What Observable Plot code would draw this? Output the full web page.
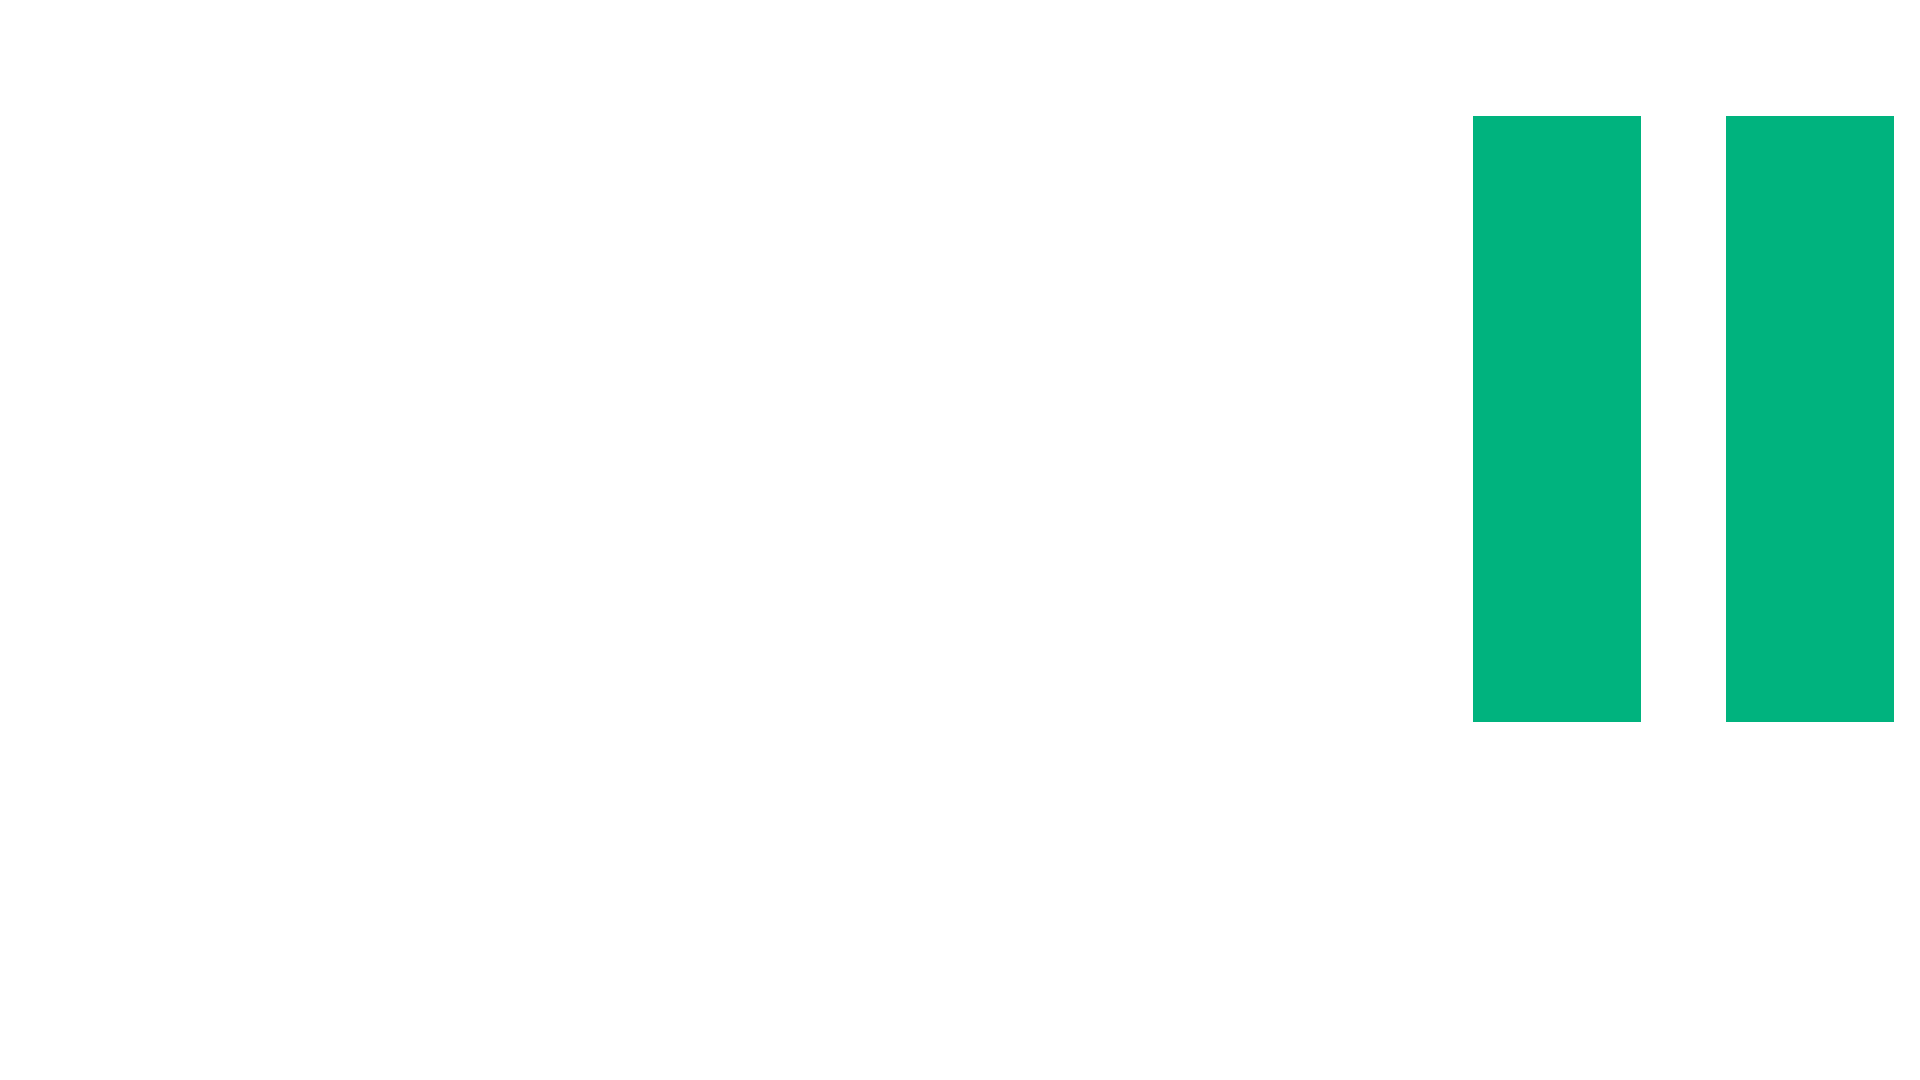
<!DOCTYPE html>
<html>
<head>
<meta charset="utf-8">
<script src="https://cdn.jsdelivr.net/npm/d3@7"></script>
<script src="https://cdn.jsdelivr.net/npm/@observablehq/plot@0.6"></script>
<style>
  html, body { margin: 0; padding: 0; background: #ffffff; overflow: hidden; }
  #chart svg { display: block; }
</style>
</head>
<body>
<div id="chart"></div>
<script>
// Data: two equal bars
const categories = ["1", "2"];
const values = [100, 100];

const data = categories.map((c, i) => ({category: c, value: values[i]}));

const chart = Plot.plot({
  width: 1920,
  height: 1080,
  marginLeft: 1447,
  marginRight: 0,
  marginTop: 116,
  marginBottom: 358,
  style: {background: "#ffffff"},
  x: {domain: categories, paddingInner: 0.335, paddingOuter: 0.1, axis: null},
  y: {domain: [0, 100], axis: null},
  marks: [
    Plot.barY(data, {x: "category", y: "value", fill: "#00b37e"})
  ]
});
document.getElementById("chart").appendChild(chart);
</script>
</body>
</html>
